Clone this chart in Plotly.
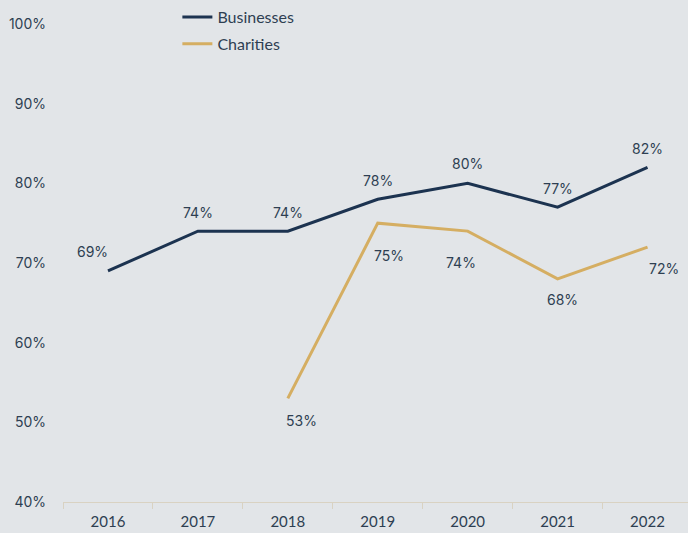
import plotly.graph_objects as go

years = ["2016", "2017", "2018", "2019", "2020", "2021", "2022"]
businesses = [69, 74, 74, 78, 80, 77, 82]
charities = [None, None, 53, 75, 74, 68, 72]

bus_color = "#1c3350"
cha_color = "#d5ae62"
txt_color = "#2e3f52"
bg = "#e2e5e8"

fig = go.Figure()
fig.add_trace(go.Scatter(x=years, y=businesses, name="Businesses", mode="lines", legendgroup="b",
                         line=dict(color=bus_color, width=3)))
fig.add_trace(go.Scatter(x=years, y=charities, name="Charities", mode="lines", legendgroup="c",
                         line=dict(color=cha_color, width=3)))

# data labels (x given as category index)
bus_shift = [(-15, 19), (0, 19), (0, 19), (0, 19), (0, 20), (0, 19), (0, 19)]
cha_shift = [None, None, (14, -22), (11, -32), (-7, -31), (5, -21), (16, -21)]
for i, v in enumerate(businesses):
    dx, dy = bus_shift[i]
    fig.add_annotation(x=i, y=v, xref="x", yref="y", text=f"{v}%", showarrow=False,
                       xshift=dx, yshift=dy,
                       font=dict(family="Inter", size=14, color=txt_color))
for i, v in enumerate(charities):
    if v is None:
        continue
    dx, dy = cha_shift[i]
    fig.add_annotation(x=i, y=v, xref="x", yref="y", text=f"{v}%", showarrow=False,
                       xshift=dx, yshift=dy,
                       font=dict(family="Inter", size=14, color=txt_color))

fig.update_layout(
    width=688, height=533,
    margin=dict(l=63, r=0, t=22, b=31),
    paper_bgcolor=bg, plot_bgcolor=bg,
    showlegend=True,
    legend=dict(x=0.183, y=1.05, xanchor="left", yanchor="top",
                font=dict(family="Lato", size=16, color=txt_color),
                bgcolor="rgba(0,0,0,0)", tracegroupgap=3),
    xaxis=dict(type="category", range=[-0.5, 6.45], tickson="boundaries",
               showgrid=False, zeroline=False, showline=True, linecolor="#d9d2c2", linewidth=1,
               ticks="outside", ticklen=6, tickcolor="#d9d2c2", ticklabelstandoff=6,
               tickfont=dict(family="Lato", size=15, color=txt_color)),
    yaxis=dict(range=[40, 100], dtick=10, ticksuffix="%", showgrid=False, zeroline=False,
               showline=False, ticklabelstandoff=16,
               tickfont=dict(family="Inter", size=14, color=txt_color)),
)

fig.write_html("out.html")
